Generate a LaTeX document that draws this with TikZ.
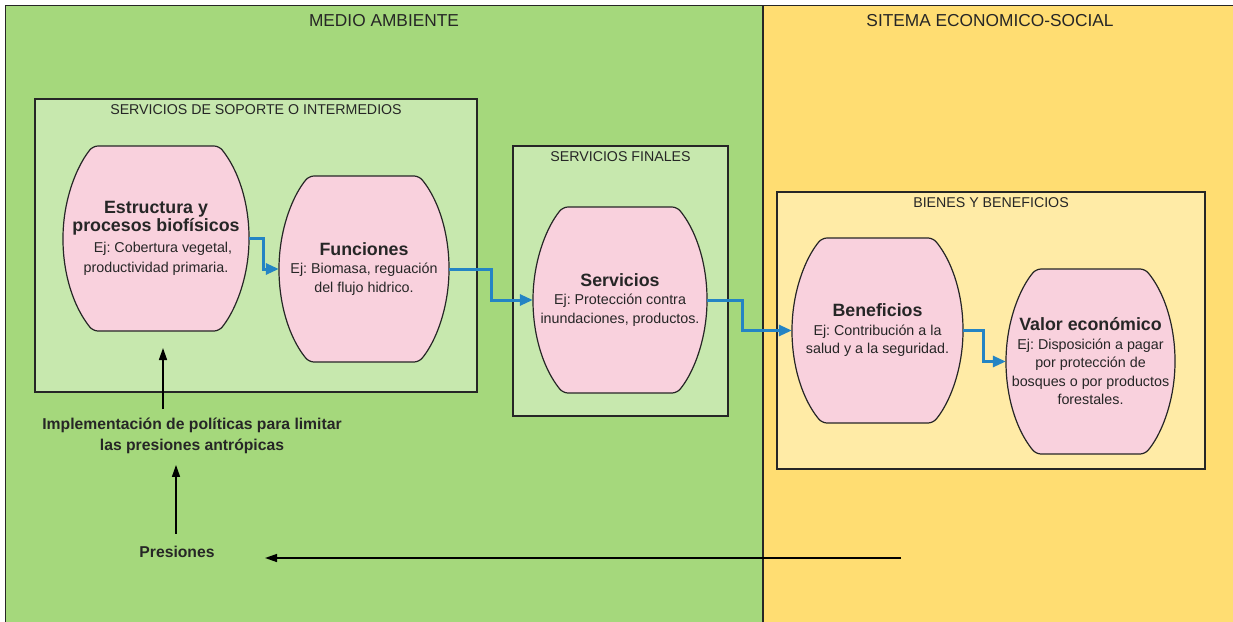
\documentclass[tikz,border=0pt]{standalone}
\usepackage{fontspec}
\setmainfont{Liberation Sans}
\usetikzlibrary{arrows.meta, positioning, calc}
\definecolor{envgreen}{HTML}{A5D87C}
\definecolor{palegreen}{HTML}{C7E8AE}
\definecolor{ecoyellow}{HTML}{FFDD72}
\definecolor{paleyellow}{HTML}{FFEBA6}
\definecolor{blobpink}{HTML}{F9D1DD}
\definecolor{flowblue}{HTML}{2484C4}
\definecolor{inkgray}{HTML}{262626}
\frenchspacing

% outline with flat top and bottom, then the text node on top
\newcommand{\blob}[5]{% name, centre, half width, half height, text
  \pgfmathsetmacro{\bflat}{#3-30}
  \pgfmathsetmacro{\bang}{acos(\bflat/#3)}
  \pgfmathsetmacro{\brad}{#4/sin(\bang)}
  \draw[blobline] (#2) ++(0,-#4) -- ++(\bflat,0)
    arc[start angle=\bang, end angle=-\bang, x radius=#3pt, y radius=\brad pt]
    -- ++(-2*\bflat,0)
    arc[start angle=180+\bang, end angle=180-\bang, x radius=#3pt, y radius=\brad pt]
    -- cycle;
  \node[blobtext, minimum width={2*#3pt}, minimum height={2*#4pt}] (#1) at (#2) {#5};
}
\newcommand{\head}[1]{{\bfseries\fontsize{17.8}{21}\selectfont #1}}

\begin{document}
\begin{tikzpicture}[x=1pt, y=-1pt,
  region/.style={draw=inkgray, line width=1.3pt},
  panel/.style={draw=inkgray, line width=1.4pt, inner sep=0pt},
  paneltitle/.style={inner sep=0pt, text=inkgray, font=\fontsize{14.2}{16}\selectfont},
  regiontitle/.style={inner sep=0pt, text=inkgray, font=\fontsize{17.3}{19}\selectfont},
  blobline/.style={draw=inkgray, line width=1.2pt, fill=blobpink, rounded corners=5pt},
  blobtext/.style={inner sep=0pt, align=center, text=inkgray, font=\fontsize{14.3}{18.5}\selectfont},
  flow/.style={draw=flowblue, line width=3pt, -{Triangle[length=13pt, width=11pt]}},
  push/.style={draw=black, line width=1.5pt, -{Triangle[length=12pt, width=8pt]}},
  note/.style={align=center, text=inkgray, font=\bfseries\fontsize{15.7}{21}\selectfont}]
\useasboundingbox (0,0) rectangle (1233,621);

% the two systems
\draw[region, fill=envgreen] (5.5,5.5) rectangle (763,640);
\draw[region, fill=ecoyellow] (763,5.5) rectangle (1250,640);
\node[regiontitle] (medio) at (384,20.5) {MEDIO AMBIENTE};
\node[regiontitle] (eco) at (990,21) {SITEMA ECONOMICO-SOCIAL};

% panels
\node[panel, fill=palegreen, minimum width=442pt, minimum height=293pt] (soporte) at (256,245.5) {};
\node[paneltitle, below=6.5pt of soporte.north] {SERVICIOS DE SOPORTE O INTERMEDIOS};
\node[panel, fill=palegreen, minimum width=215pt, minimum height=270pt] (finales) at (620.5,281) {};
\node[paneltitle, below=6pt of finales.north] {SERVICIOS FINALES};
\node[panel, fill=paleyellow, minimum width=428pt, minimum height=277pt] (bienes) at (991,330.5) {};
\node[paneltitle, below=6pt of bienes.north] {BIENES Y BENEFICIOS};

% chain of services
\blob{estr}{156,238.5}{93}{92.5}{\head{Estructura y}\\\head{procesos biofísicos}\\[2pt]
  \hspace*{14pt}Ej: Cobertura vegetal,\\[2pt]productividad primaria.}
\blob{func}{364,269}{85}{93}{\head{Funciones}\\Ej: Biomasa, reguación\\del flujo hidrico.}
\blob{serv}{620,300}{87}{93}{\head{Servicios}\\Ej: Protección contra\\inundaciones, productos.}
\blob{bene}{877.5,330.5}{85.5}{92.5}{\head{Beneficios}\\Ej: Contribución a la\\salud y a la seguridad.}
\blob{valor}{1090.5,361.5}{84.5}{92.5}{\head{Valor económico}\\Ej: Disposición a pagar\\por protección de\\bosques o por productos\\forestales.}

\draw[flow] (estr.east) -- ++(14,0) |- (func.west);
\draw[flow] (func.east) -- ++(42,0) |- (serv.west);
\draw[flow] (serv.east) -- ++(35,0) |- (bene.west);
\draw[flow] (bene.east) -- ++(20,0) |- (valor.west);

% pressures and policies
\node[note] (policy) at (192,435.5) {Implementación de políticas para limitar\\las presiones antrópicas};
\node[note] (pres) at (177,552) {Presiones};
\coordinate (hit) at (163,348);
\coordinate (fromeco) at (901,558);
\draw[push, shorten <=5pt] (policy.north -| hit) -- (hit);
\draw[push, shorten <=9pt, shorten >=8pt] (pres.north -| 176,0) -- (policy.south -| 176,0);
\draw[push, shorten >=47pt] (fromeco) -- (pres.east |- fromeco);

\end{tikzpicture}
\end{document}
